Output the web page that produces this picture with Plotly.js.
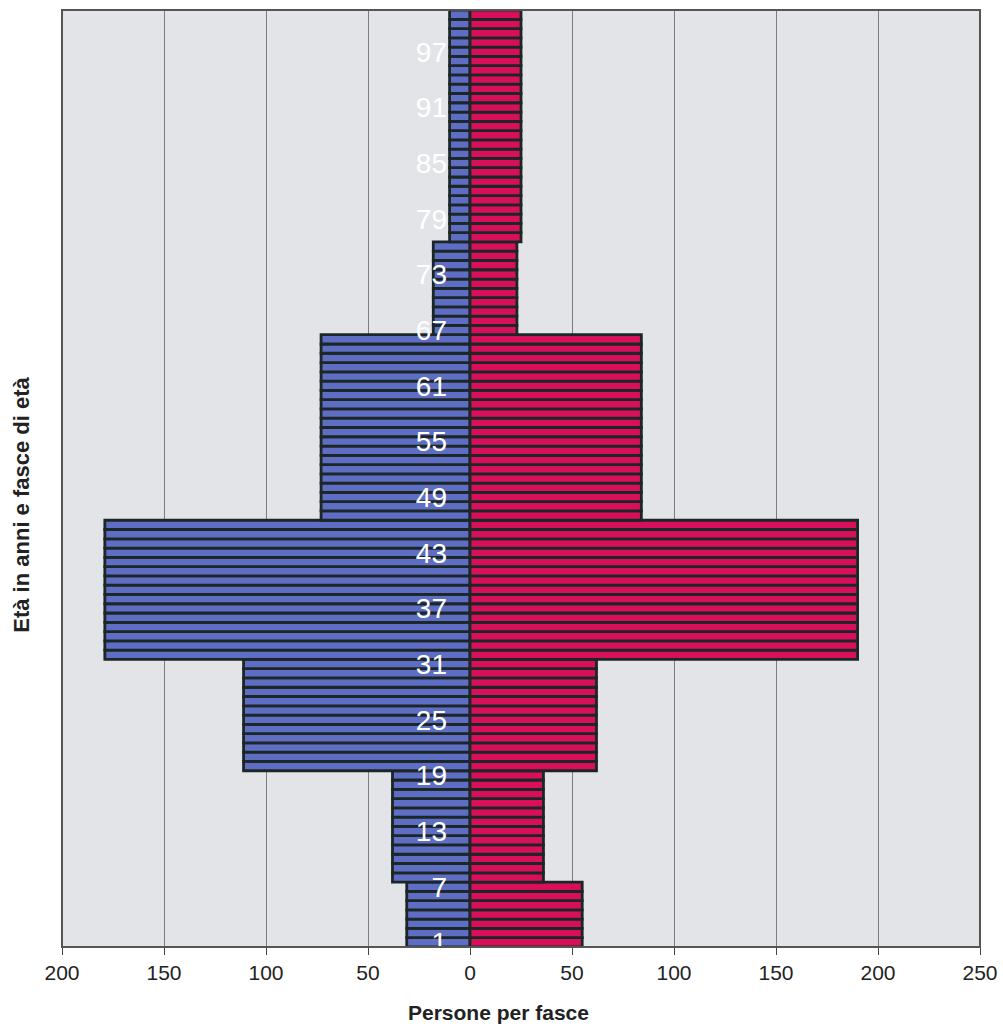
<!DOCTYPE html>
<html>
<head>
<meta charset="utf-8">
<script src="https://cdn.plot.ly/plotly-3.0.1.min.js"></script>
<style>html,body{margin:0;padding:0;background:#fff;}#chart{width:1003px;height:1032px;}</style>
</head>
<body>
<div id="chart"></div>
<script>
// Age bands (first and last age of each band) and persons per age in each band
const bandStart = [1, 8, 20, 32, 47, 67, 77];
const bandEnd   = [7, 19, 31, 46, 66, 76, 101];
const maleValues   = [31, 38, 111, 179, 73, 18, 10];
const femaleValues = [55, 36, 62, 190, 84, 23, 25];

const ageTickVals = [1, 7, 13, 19, 25, 31, 37, 43, 49, 55, 61, 67, 73, 79, 85, 91, 97];
const xTickVals = [-200, -150, -100, -50, 0, 50, 100, 150, 200, 250];
const xTickText = ["200", "150", "100", "50", "0", "50", "100", "150", "200", "250"];
const xRange = [-200, 250];

// expand the band readings to one bar per age
const ages = [], male = [], female = [];
for (let b = 0; b < bandStart.length; b++) {
  for (let a = bandStart[b]; a <= bandEnd[b]; a++) {
    ages.push(a);
    male.push(-maleValues[b]);
    female.push(femaleValues[b]);
  }
}

const border = {color: '#1c2624', width: 2.8};
const traces = [
  {type: 'bar', orientation: 'h', y: ages, x: male, width: 1,
   marker: {color: '#5d6ec4', line: border}, hoverinfo: 'skip', showlegend: false},
  {type: 'bar', orientation: 'h', y: ages, x: female, width: 1,
   marker: {color: '#d8105c', line: border}, hoverinfo: 'skip', showlegend: false}
];

const font = 'Liberation Sans, Arial, sans-serif';
const layout = {
  width: 1003, height: 1032,
  margin: {l: 62, r: 23, t: 10, b: 85},
  paper_bgcolor: '#ffffff',
  plot_bgcolor: '#e3e4e8',
  barmode: 'relative',
  bargap: 0,
  showlegend: false,
  font: {family: font, color: '#222'},
  xaxis: {
    range: xRange, tickvals: xTickVals, ticktext: xTickText,
    showgrid: true, gridcolor: '#7e7e7e', gridwidth: 1,
    zeroline: false, showline: false,
    ticks: 'outside', ticklen: 7, tickcolor: '#444', tickwidth: 1,
    tickfont: {size: 21, color: '#222', family: font},
    fixedrange: true
  },
  yaxis: {
    range: [0.5, 101.5], tickvals: ageTickVals,
    anchor: 'free', position: (0 - xRange[0]) / (xRange[1] - xRange[0]), side: 'left',
    showgrid: false, zeroline: false, showline: false, ticks: '',
    ticklabelstandoff: 23,
    tickfont: {size: 28, color: '#ffffff', family: font},
    fixedrange: true
  },
  shapes: [
    {type: 'rect', xref: 'paper', yref: 'paper', x0: 0, x1: 1, y0: 0, y1: 1,
     line: {color: '#555', width: 2}, fillcolor: 'rgba(0,0,0,0)', layer: 'above'}
  ],
  annotations: [
    {text: '<b>Età in anni e fasce di età</b>', xref: 'paper', yref: 'paper',
     x: 0, xshift: -40, y: 0.472, xanchor: 'center', yanchor: 'middle', textangle: -90,
     showarrow: false, font: {size: 22, color: '#222', family: font}},
    {text: '<b>Persone per fasce</b>', xref: 'paper', yref: 'paper',
     x: 0.475, y: 0, yshift: -65, xanchor: 'center', yanchor: 'middle',
     showarrow: false, font: {size: 21, color: '#222', family: font}}
  ]
};

Plotly.newPlot('chart', traces, layout, {displayModeBar: false, staticPlot: true});
</script>
</body>
</html>
